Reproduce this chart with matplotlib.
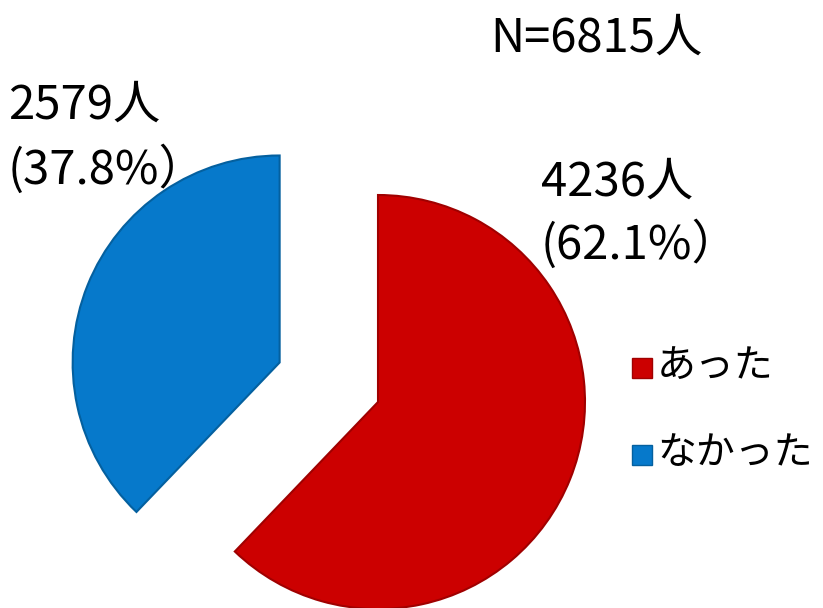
import matplotlib
matplotlib.use("Agg")
import matplotlib.pyplot as plt
from matplotlib.patches import Rectangle

plt.rcParams['font.family'] = ['Noto Sans CJK JP', 'DejaVu Sans']

# Data
categories = ["あった", "なかった"]
counts = [4236, 2579]
percents = [62.1, 37.8]
total = 6815
colors = ["#CC0000", "#0679CB"]
edge_colors = ["#A00000", "#04609F"]

W, H = 823, 608
fig = plt.figure(figsize=(W / 100, H / 100), dpi=100)
ax = fig.add_axes([0, 0, 1, 1])


def py(y):
    # pixel row (from top) -> data y
    return H - y


R = 207
wedges, _ = ax.pie(counts, colors=colors, startangle=90, counterclock=False,
                   explode=[0, 106], center=(378, py(402)), radius=R,
                   wedgeprops=dict(linewidth=1.5), frame=True)
for w, ec in zip(wedges, edge_colors):
    w.set_edgecolor(ec)
ax.set_xlim(0, W)
ax.set_ylim(0, H)
ax.set_aspect('equal')
ax.axis('off')

fs = 34
ax.text(490, py(38), f"N={total}人", fontsize=fs, va='center', ha='left')
ax.text(8, py(105), f"{counts[1]}人", fontsize=fs, va='center', ha='left')
ax.text(8, py(170), f"({percents[1]}%）", fontsize=fs, va='center', ha='left')
ax.text(541, py(182), f"{counts[0]}人", fontsize=fs, va='center', ha='left')
ax.text(541, py(245), f"({percents[0]}%）", fontsize=fs, va='center', ha='left')

# Legend
for i, (lab, c, ec) in enumerate(zip(categories, colors, edge_colors)):
    yc = 368 + i * 87
    ax.add_patch(Rectangle((632, py(yc + 10)), 20, 20, facecolor=c,
                           edgecolor=ec, linewidth=1))
    ax.text(657, py(yc - 2), lab, fontsize=28, va='center', ha='left')

fig.savefig("out.png", dpi=100)
